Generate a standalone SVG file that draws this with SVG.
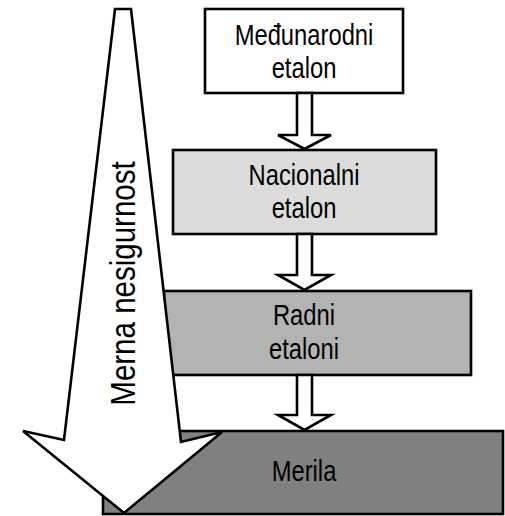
<svg xmlns="http://www.w3.org/2000/svg" width="505" height="516" viewBox="0 0 505 516">
<style>
.box{stroke:#000;stroke-width:2.6}
.lbl{font-family:"Liberation Sans Narrow","Liberation Sans",Arial,sans-serif;font-size:29px;fill:#000;text-anchor:middle}
.conn{fill:#fff;stroke:#000;stroke-width:2.6;stroke-linejoin:miter}
</style>
<rect width="505" height="516" fill="#fff"/>
<g id="node-medjunarodni">
<rect class="box" x="205" y="9" width="198" height="84" fill="#fff"/>
<text class="lbl" transform="translate(304,45) scale(0.82,1)">Međunarodni</text>
<text class="lbl" transform="translate(304,78) scale(0.82,1)">etalon</text>
</g>
<g id="node-nacionalni">
<rect class="box" x="173" y="150" width="263" height="84" fill="#dcdcdc"/>
<text class="lbl" transform="translate(304,185) scale(0.82,1)">Nacionalni</text>
<text class="lbl" transform="translate(304,218) scale(0.82,1)">etalon</text>
</g>
<g id="node-radni">
<rect class="box" x="164" y="291" width="307" height="84" fill="#b3b3b3"/>
<text class="lbl" transform="translate(304,325) scale(0.82,1)">Radni</text>
<text class="lbl" transform="translate(304,359) scale(0.82,1)">etaloni</text>
</g>
<g id="node-merila">
<rect class="box" x="103" y="431" width="400" height="83" fill="#808080"/>
<text class="lbl" transform="translate(304,481) scale(0.82,1)">Merila</text>
</g>
<g id="connectors">
<polygon class="conn" points="297,93 312,93 312,135 331,135 304.5,149 278,135 297,135"/>
<polygon class="conn" points="297,234 312,234 312,275 331,275 304.5,290 278,275 297,275"/>
<polygon class="conn" points="297,375 312,375 312,415 331,415 304.5,430 278,415 297,415"/>
</g>
<g id="node-uncertainty">
<polygon class="conn" points="115,9 131,9 181,442 222,432 124,513 23,431 64,440"/>
<text class="lbl" style="font-size:36px" transform="translate(135,283.5) rotate(-90) scale(0.82,1)">Merna nesigurnost</text>
</g>
</svg>
